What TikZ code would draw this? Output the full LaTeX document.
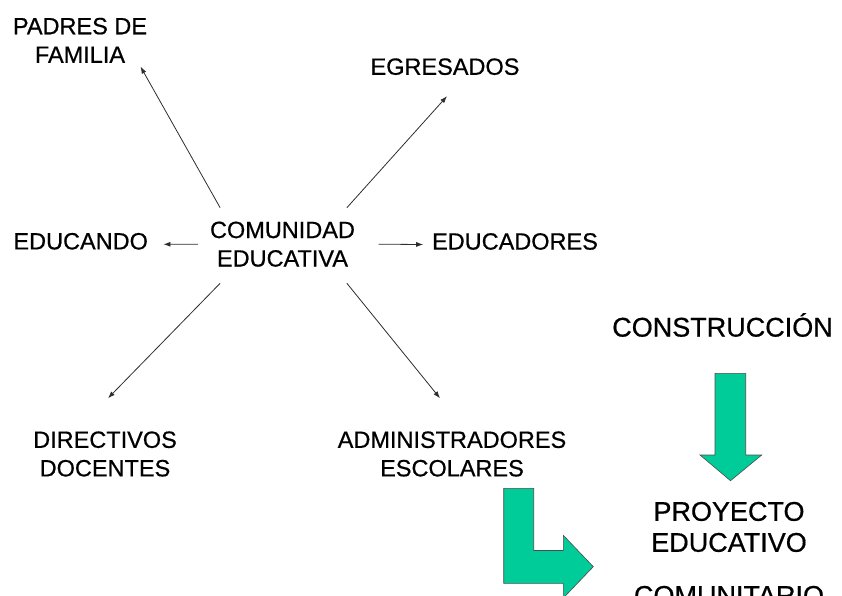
\documentclass[tikz,border=0pt]{standalone}
\usepackage{fontspec}
\setmainfont{Liberation Sans}[FakeBold=0.6]
\usetikzlibrary{arrows.meta}
\definecolor{verde}{RGB}{0,204,153}
\definecolor{flecha}{RGB}{45,45,45}
\tikzset{
  actor/.style={align=center, inner sep=0pt, font=\fontsize{23.5}{28.5}\selectfont},
  titulo/.style={align=center, inner sep=0pt, font=\fontsize{27}{31}\selectfont},
  rel/.style={->, draw=flecha, line width=.8pt},
  bloque/.style={fill=verde, draw=black!70, line width=.6pt},
}
\begin{document}
\begin{tikzpicture}[x=1pt, y=-1pt, >={Latex[length=7pt,width=5pt]}]
\useasboundingbox (0,0) rectangle (842,596);
% actores
\node[actor] (cu) at (282.5,244.2) {COMUNIDAD\\EDUCATIVA};
\node[actor] (padres) at (80,40.3) {PADRES DE\\FAMILIA};
\node[actor] (egresados) at (445,66.7) {EGRESADOS};
\node[actor] (educando) at (80.7,241.3) {EDUCANDO};
\node[actor] (educadores) at (515,241.5) {EDUCADORES};
\node[actor] (directivos) at (105,454) {DIRECTIVOS\\DOCENTES};
\node[actor] (admin) at (452,454) {ADMINISTRADORES\\ESCOLARES};
% relaciones
\draw[rel] ([shift={(10.3,-13.7)}]cu.north west) -- ([shift={(-6.7,3.7)}]padres.south east);
\draw[rel] ([shift={(-8.3,-13.7)}]cu.north east) -- ([shift={(2,21)}]egresados.south);
\draw[rel] ([shift={(-12,0)}]cu.west) -- ([shift={(15.3,3)}]educando.east);
\draw[rel] ([shift={(23.4,0)}]cu.east) -- ([shift={(-8.7,3)}]educadores.west);
\draw[rel] ([shift={(10.3,16.3)}]cu.south west) -- ([shift={(3,-33)}]directivos.north);
\draw[rel] ([shift={(-8.3,16.3)}]cu.south east) -- ([shift={(-12,-33)}]admin.north);
% construccion del proyecto
\node[titulo] (construccion) at (722.5,325) {CONSTRUCCIÓN};
\node[titulo, anchor=north] (proyecto) at (729,501.7) {PROYECTO\\EDUCATIVO\\[22pt]COMUNITARIO};
\draw[bloque] (715,373.3) -- (745.7,373.3) -- (745.7,455) -- (761.7,455) -- (730.5,480.7)
  -- (700,455) -- (715,455) -- cycle;
\draw[bloque] (503.7,488.3) -- (533.7,488.3) -- (533.7,550.5) -- (563.3,550.5) -- (563.3,535.3)
  -- (593.3,566.7) -- (563.3,598) -- (563.3,583.3) -- (503.7,583.3) -- cycle;
\end{tikzpicture}
\end{document}
